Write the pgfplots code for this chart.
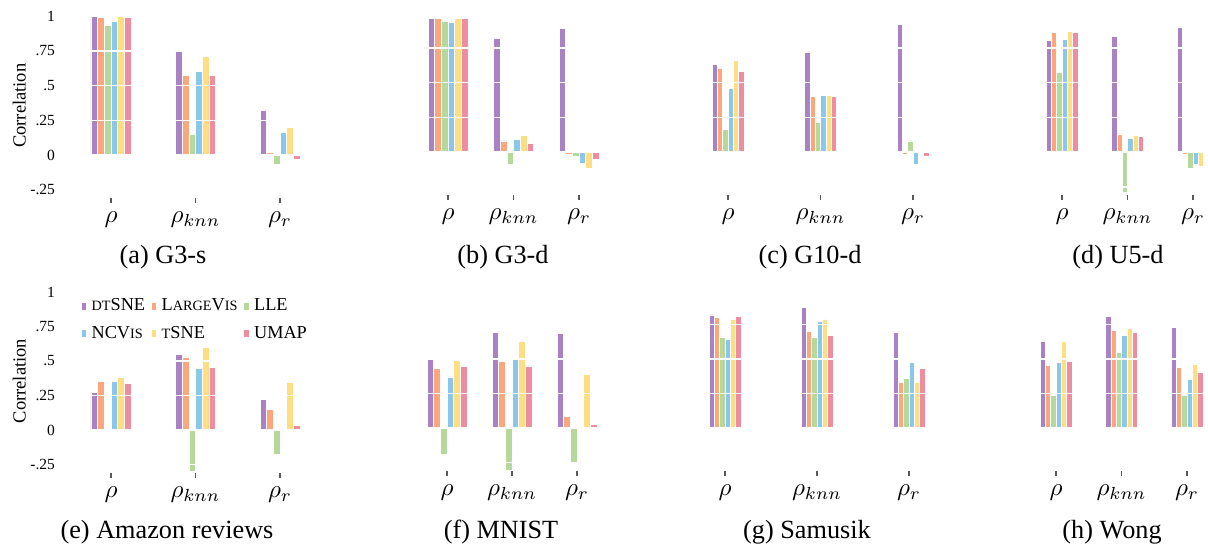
\documentclass[border=0pt]{standalone}
\usepackage{fontspec}
\setmainfont{Liberation Serif}
\usepackage{pgfplots}
\usepackage{pgfplotstable}
\pgfplotsset{compat=1.18}

\definecolor{cdt}{RGB}{168,130,195}
\definecolor{clv}{RGB}{252,166,125}
\definecolor{clle}{RGB}{183,216,155}
\definecolor{cncv}{RGB}{137,200,232}
\definecolor{cts}{RGB}{254,222,130}
\definecolor{cum}{RGB}{238,140,160}

\newcommand{\fsc}[1]{{\fontsize{5.7pt}{6.5pt}\selectfont #1}}

% columns: x dt lv lle ncv ts um
\pgfplotstableread{
x dt lv lle ncv ts um
0 1.00 0.99 0.93 0.96 1.00 0.99
1 0.75 0.57 0.15 0.60 0.71 0.57
2 0.32 0.02 -0.07 0.16 0.20 -0.03
}\tA
\pgfplotstableread{
x dt lv lle ncv ts um
0 0.96 0.96 0.94 0.93 0.96 0.96
1 0.82 0.08 -0.09 0.09 0.12 0.06
2 0.89 -0.015 -0.03 -0.08 -0.12 -0.055
}\tB
\pgfplotstableread{
x dt lv lle ncv ts um
0 0.63 0.60 0.16 0.46 0.66 0.58
1 0.72 0.40 0.21 0.41 0.41 0.40
2 0.92 -0.015 0.08 -0.09 0.01 -0.03
}\tC
\pgfplotstableread{
x dt lv lle ncv ts um
0 0.80 0.86 0.57 0.81 0.87 0.86
1 0.83 0.13 -0.29 0.10 0.12 0.115
2 0.90 -0.015 -0.12 -0.09 -0.10 -0.01
}\tD
\pgfplotstableread{
x dt lv lle ncv ts um
0 0.27 0.355 0.005 0.355 0.385 0.335
1 0.55 0.53 -0.30 0.445 0.60 0.455
2 0.22 0.15 -0.175 0.01 0.345 0.035
}\tE
\pgfplotstableread{
x dt lv lle ncv ts um
0 0.50 0.43 -0.19 0.37 0.49 0.45
1 0.695 0.48 -0.31 0.50 0.625 0.45
2 0.685 0.085 -0.25 -0.01 0.39 0.025
}\tF
\pgfplotstableread{
x dt lv lle ncv ts um
0 0.82 0.80 0.66 0.645 0.79 0.81
1 0.875 0.70 0.66 0.77 0.79 0.67
2 0.69 0.33 0.36 0.475 0.33 0.43
}\tG
\pgfplotstableread{
x dt lv lle ncv ts um
0 0.63 0.455 0.24 0.475 0.63 0.485
1 0.81 0.71 0.55 0.67 0.72 0.69
2 0.73 0.44 0.24 0.355 0.465 0.405
}\tH

\pgfplotsset{
  panel/.style={
    anchor=origin, clip=false,
    ymin=-0.31, ymax=1.02, xmin=-0.6, xmax=2.6,
    axis line style={draw=none},
    xtick={0,1,2}, xticklabels={$\rho$,$\rho_{knn}$,$\rho_r$},
    xtick pos=bottom, tick align=outside, major tick length=2pt,
    xtick style={draw=black!65, line width=0.5pt},
    ytick={-0.25,0,0.25,0.5,0.75,1}, yticklabels={}, ytick style={draw=none},
    ymajorgrids, grid style={white, line width=0.6pt},
    axis on top,
    ybar=0pt,
    xticklabel style={font=\fontsize{10}{12}\selectfont},
    yticklabel style={font=\fontsize{6.2}{7}\selectfont},
    ylabel style={font=\fontsize{7.4}{8}\selectfont},
    ylabel shift=-5pt,
    legend image code/.code={\fill[##1] (0pt,-1.5pt) rectangle (2.2pt,1.7pt);},
  },
  lefty/.style={xmin=-0.5,
    yticklabels={-.25,0,.25,.5,.75,1}, ylabel={Correlation}},
  bst/.style={draw=white, line width=0.25pt, fill=#1},
}

\newcommand{\sixbars}[1]{%
  \addplot[bst=cdt] table[x=x,y=dt]{#1};
  \addplot[bst=clv] table[x=x,y=lv]{#1};
  \addplot[bst=clle] table[x=x,y=lle]{#1};
  \addplot[bst=cncv] table[x=x,y=ncv]{#1};
  \addplot[bst=cts] table[x=x,y=ts]{#1};
  \addplot[bst=cum] table[x=x,y=um]{#1};
}

\begin{document}
\begin{tikzpicture}
\path[use as bounding box] (0,0) rectangle (483.2pt,217.6pt);

\begin{axis}[panel, lefty, at={(44.4pt,155.6pt)}, x=33.8pt, y=55.6pt, bar width=2.667pt]
\sixbars{\tA}
\end{axis}
\begin{axis}[panel, at={(179.2pt,156.8pt)}, x=26.2pt, y=55.6pt, bar width=2.667pt]
\sixbars{\tB}
\end{axis}
\begin{axis}[panel, at={(291.2pt,156.8pt)}, x=37.0pt, y=55.6pt, bar width=2.133pt]
\sixbars{\tC}
\end{axis}
\begin{axis}[panel, at={(424.8pt,156.8pt)}, x=26.2pt, y=55.6pt, bar width=2.133pt]
\sixbars{\tD}
\end{axis}

\begin{axis}[panel, lefty, at={(44.4pt,45.6pt)}, x=33.8pt, y=55.2pt, bar width=2.667pt,
  legend columns=3, legend cell align=left,
  legend style={at={(0.043,0.962)}, anchor=north west, draw=none, fill=none,
    inner sep=0pt, font=\fontsize{7.3}{8.3}\selectfont, row sep=3pt,
    nodes={inner ysep=0.8pt},
    /tikz/every even column/.append style={column sep=0.2pt}}]
\sixbars{\tE}
\legend{\fsc{DT}SNE, L\fsc{ARGE}V\fsc{IS}, LLE, NCV\fsc{IS}, \fsc{T}SNE, UMAP}
\end{axis}
\begin{axis}[panel, at={(178.8pt,46.4pt)}, x=26.0pt, y=55.2pt, bar width=2.667pt]
\sixbars{\tF}
\end{axis}
\begin{axis}[panel, at={(290.0pt,46.4pt)}, x=36.8pt, y=55.2pt, bar width=2.133pt]
\sixbars{\tG}
\end{axis}
\begin{axis}[panel, at={(422.4pt,46.4pt)}, x=26.2pt, y=55.2pt, bar width=2.133pt]
\sixbars{\tH}
\end{axis}

\begin{scope}[every node/.style={font=\fontsize{10.5}{12}\selectfont}]
\node at (65.2pt,114.8pt) {(a) G3-s};
\node at (201.2pt,114.8pt) {(b) G3-d};
\node at (324.0pt,114.8pt) {(c) G10-d};
\node at (447.2pt,114.8pt) {(d) U5-d};
\node at (66.8pt,4.8pt) {(e) Amazon reviews};
\node at (200.4pt,4.8pt) {(f) MNIST};
\node at (322.8pt,4.8pt) {(g) Samusik};
\node at (444.8pt,4.8pt) {(h) Wong};
\end{scope}
\end{tikzpicture}
\end{document}
